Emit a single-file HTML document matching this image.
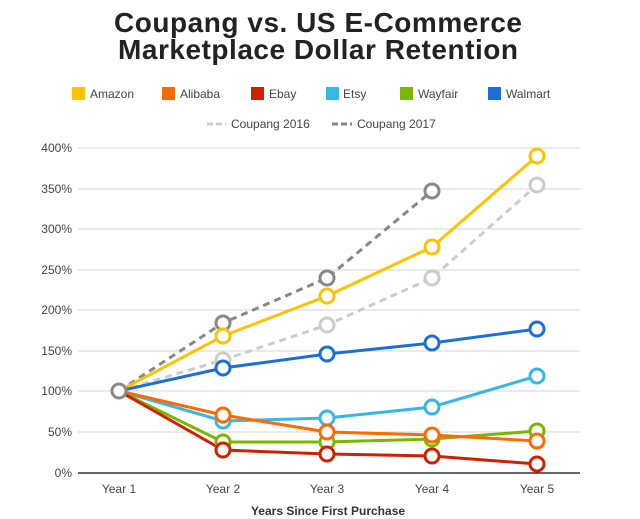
<!DOCTYPE html>
<html><head><style>body{margin:0;background:#fff}svg{display:block}</style></head><body>
<svg width="640" height="519" xmlns="http://www.w3.org/2000/svg" font-family="Liberation Sans, sans-serif">
<text x="318" y="32" text-anchor="middle" font-size="28" font-weight="bold" fill="#222" textLength="408">Coupang vs. US E-Commerce</text>
<text x="318" y="59" text-anchor="middle" font-size="28" font-weight="bold" fill="#222" textLength="400">Marketplace Dollar Retention</text>
<g font-size="12" fill="#444">
<rect x="72" y="87" width="13" height="13" fill="#ffc200"/><text x="90" y="98">Amazon</text>
<rect x="162" y="87" width="13" height="13" fill="#ff6a00"/><text x="180" y="98">Alibaba</text>
<rect x="251" y="87" width="13" height="13" fill="#d21f00"/><text x="269" y="98">Ebay</text>
<rect x="326" y="87" width="13" height="13" fill="#35b7e8"/><text x="343" y="98">Etsy</text>
<rect x="400" y="87" width="13" height="13" fill="#7ab800"/><text x="418" y="98">Wayfair</text>
<rect x="488" y="87" width="13" height="13" fill="#1a6fd8"/><text x="506" y="98">Walmart</text>
<line x1="207" y1="124" x2="226" y2="124" stroke="#ccc" stroke-width="3" stroke-dasharray="6,3"/><text x="231" y="128">Coupang 2016</text>
<line x1="332" y1="124" x2="352" y2="124" stroke="#888" stroke-width="3" stroke-dasharray="6,3"/><text x="357" y="128">Coupang 2017</text>
</g>
<g stroke="#e3e3e3" stroke-width="1.5">
<line x1="78" y1="148" x2="580" y2="148"/><line x1="78" y1="189" x2="580" y2="189"/><line x1="78" y1="229" x2="580" y2="229"/><line x1="78" y1="270" x2="580" y2="270"/><line x1="78" y1="310" x2="580" y2="310"/><line x1="78" y1="351" x2="580" y2="351"/><line x1="78" y1="391" x2="580" y2="391"/><line x1="78" y1="432" x2="580" y2="432"/>
</g>
<line x1="78" y1="473" x2="580" y2="473" stroke="#333" stroke-width="1.5"/>
<g font-size="12" fill="#444" text-anchor="end">
<text x="72" y="152">400%</text><text x="72" y="193">350%</text><text x="72" y="233">300%</text><text x="72" y="274">250%</text><text x="72" y="314">200%</text><text x="72" y="355">150%</text><text x="72" y="395">100%</text><text x="72" y="436">50%</text><text x="72" y="477">0%</text>
</g>
<g font-size="12" fill="#444" text-anchor="middle">
<text x="119" y="493">Year 1</text><text x="223" y="493">Year 2</text><text x="327" y="493">Year 3</text><text x="432" y="493">Year 4</text><text x="537" y="493">Year 5</text>
</g>
<text x="328" y="515" text-anchor="middle" font-size="12" font-weight="bold" fill="#333">Years Since First Purchase</text>
<g fill="none" stroke-width="3">
<polyline stroke="#ccc" stroke-dasharray="7,5" points="119,391 223,360 327,325 432,278 537,185"/>
<polyline stroke="#888" stroke-dasharray="7,5" points="119,391 223,323 327,278 432,191"/>
<polyline stroke="#ffc200" points="119,391 223,336 327,296 432,247 537,156"/>
<polyline stroke="#1a6fd8" points="119,391 223,368 327,354 432,343 537,329"/>
<polyline stroke="#35b7e8" points="119,391 223,421 327,418 432,407 537,376"/>
<polyline stroke="#7ab800" points="119,391 223,442 327,442 432,439 537,431"/>
<polyline stroke="#ff6a00" points="119,391 223,415 327,432 432,435 537,441"/>
<polyline stroke="#d21f00" points="119,391 223,450 327,454 432,456 537,464"/>
</g>
<g fill="#fff" stroke-width="3">
<g stroke="#ccc"><circle cx="223" cy="360" r="7"/><circle cx="327" cy="325" r="7"/><circle cx="432" cy="278" r="7"/><circle cx="537" cy="185" r="7"/></g>
<g stroke="#888"><circle cx="223" cy="323" r="7"/><circle cx="327" cy="278" r="7"/><circle cx="432" cy="191" r="7"/></g>
<g stroke="#ffc200"><circle cx="223" cy="336" r="7"/><circle cx="327" cy="296" r="7"/><circle cx="432" cy="247" r="7"/><circle cx="537" cy="156" r="7"/></g>
<g stroke="#1a6fd8"><circle cx="223" cy="368" r="7"/><circle cx="327" cy="354" r="7"/><circle cx="432" cy="343" r="7"/><circle cx="537" cy="329" r="7"/></g>
<g stroke="#35b7e8"><circle cx="223" cy="421" r="7"/><circle cx="327" cy="418" r="7"/><circle cx="432" cy="407" r="7"/><circle cx="537" cy="376" r="7"/></g>
<g stroke="#7ab800"><circle cx="223" cy="442" r="7"/><circle cx="327" cy="442" r="7"/><circle cx="432" cy="439" r="7"/><circle cx="537" cy="431" r="7"/></g>
<g stroke="#ff6a00"><circle cx="223" cy="415" r="7"/><circle cx="327" cy="432" r="7"/><circle cx="432" cy="435" r="7"/><circle cx="537" cy="441" r="7"/></g>
<g stroke="#d21f00"><circle cx="223" cy="450" r="7"/><circle cx="327" cy="454" r="7"/><circle cx="432" cy="456" r="7"/><circle cx="537" cy="464" r="7"/></g>
<circle cx="119" cy="391" r="7" stroke="#888"/>
</g>
</svg>
</body></html>
